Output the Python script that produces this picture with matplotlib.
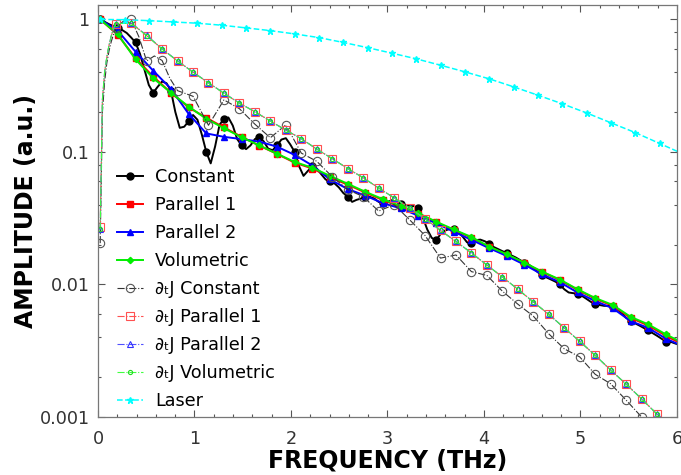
import numpy as np
import matplotlib
matplotlib.use("Agg")
import matplotlib.pyplot as plt
from matplotlib.ticker import LogLocator, NullFormatter, FixedLocator, MultipleLocator

plt.rcParams["font.family"] = ["DejaVu Sans", "Noto Sans"]

# ---------------- data ----------------
F0 = 0.0229  # first frequency sample (THz)

# Constant (solid, filled circles) sampled every 0.0458 THz
constant_amp = [
    1.0, 0.96, 0.92, 0.89, 0.86, 0.83, 0.79, 0.73, 0.67, 0.55, 0.42, 0.32,
    0.28, 0.31, 0.34, 0.33, 0.29, 0.20, 0.152, 0.155, 0.17, 0.19, 0.175, 0.135,
    0.10, 0.082, 0.11, 0.16, 0.178, 0.182, 0.158, 0.125, 0.112, 0.105, 0.112, 0.125,
    0.13, 0.12, 0.106, 0.103, 0.112, 0.124, 0.127, 0.114, 0.10, 0.078, 0.066, 0.072,
    0.078, 0.075, 0.068, 0.062, 0.060, 0.058, 0.054, 0.049, 0.046, 0.042, 0.0435, 0.0445,
    0.0455, 0.0458, 0.0445, 0.042, 0.041, 0.042, 0.0433, 0.042, 0.0405, 0.0395, 0.039, 0.039,
    0.0375, 0.032, 0.026, 0.0225, 0.0215, 0.024, 0.0255, 0.0262, 0.026, 0.025, 0.023, 0.0208,
    0.0205, 0.0216, 0.0218, 0.0212, 0.0203, 0.0192, 0.0185, 0.0178, 0.0172, 0.0166, 0.016, 0.0153,
    0.0146, 0.0141, 0.0133, 0.0124, 0.0117, 0.0113, 0.0109, 0.0105, 0.0100, 0.0092, 0.0087, 0.0086,
    0.0085, 0.0082, 0.0078, 0.0074, 0.0071, 0.0070, 0.0069, 0.0069, 0.0068, 0.0065, 0.0061, 0.0056,
    0.0053, 0.0051, 0.0049, 0.0047, 0.0045, 0.0043, 0.0041, 0.0039, 0.0037, 0.0037, 0.0036, 0.0035,
]

# Parallel 1 / Parallel 2 / Volumetric sampled every 0.1832 THz
parallel1_amp = [
    1.0, 0.764, 0.509, 0.37, 0.28, 0.217, 0.181, 0.153, 0.13, 0.1116, 0.0966, 0.083,
    0.075, 0.0645, 0.0566, 0.0494, 0.0433, 0.0384, 0.0341, 0.0294, 0.0257, 0.0226, 0.0191, 0.0168,
    0.0145, 0.0124, 0.0108, 0.0091, 0.0078, 0.0069, 0.0056, 0.0049, 0.0041, 0.0035,
]
parallel2_amp = [
    1.0, 0.82, 0.57, 0.41, 0.30, 0.194, 0.138, 0.130, 0.125, 0.1197, 0.1096, 0.095,
    0.079, 0.062, 0.0525, 0.0468, 0.041, 0.0375, 0.033, 0.029, 0.025, 0.0217, 0.0188, 0.0164,
    0.0141, 0.0119, 0.0104, 0.0087, 0.0075, 0.0066, 0.0053, 0.0047, 0.0039, 0.0034,
]
volumetric_amp = [
    1.0, 0.77, 0.50, 0.36, 0.28, 0.22, 0.178, 0.151, 0.129, 0.112, 0.097, 0.084,
    0.076, 0.066, 0.0575, 0.050, 0.0440, 0.0390, 0.0345, 0.0298, 0.0260, 0.0228, 0.0193, 0.0169,
    0.0146, 0.0125, 0.0109, 0.0092, 0.0079, 0.0070, 0.0057, 0.0050, 0.0042, 0.0036,
]

# d/dt J spectra: rising part every 0.0229 THz, then every 0.1603 THz
dtj_constant_amp = [
    0.0205, 0.20, 0.34, 0.47, 0.58, 0.68, 0.77,
    0.86, 0.97, 1.0, 0.74, 0.486, 0.53, 0.49, 0.36, 0.29,
    0.263, 0.159, 0.247, 0.212, 0.162, 0.128, 0.16, 0.098, 0.085, 0.065, 0.052, 0.046,
    0.0358, 0.040, 0.0308, 0.0234, 0.0158, 0.0167, 0.0125, 0.0117, 0.0089, 0.0071, 0.00577, 0.00424,
    0.00327, 0.00284, 0.0021, 0.00178, 0.00134, 0.0010, 0.00078, 0.0006,
]
dtj_parallel1_amp = [
    0.027, 0.25, 0.40, 0.52, 0.64, 0.75, 0.85,
    0.93, 0.936, 0.755, 0.599, 0.486, 0.40, 0.332, 0.277, 0.233, 0.201, 0.171, 0.146,
    0.126, 0.105, 0.089, 0.075, 0.0638, 0.0535, 0.045, 0.0378, 0.0313, 0.0256, 0.0211, 0.0173,
    0.014, 0.0114, 0.0092, 0.00738, 0.00595, 0.0047, 0.00372, 0.00292, 0.00226, 0.00177, 0.00137,
    0.00105, 0.0008,
]
dtj_parallel2_amp = [
    0.026, 0.25, 0.40, 0.52, 0.64, 0.75, 0.85,
    0.93, 0.94, 0.76, 0.60, 0.487, 0.40, 0.333, 0.278, 0.234, 0.201, 0.171, 0.146,
    0.126, 0.105, 0.089, 0.075, 0.0638, 0.0535, 0.045, 0.0378, 0.0313, 0.0256, 0.0211, 0.0173,
    0.014, 0.0114, 0.0092, 0.00738, 0.00595, 0.0047, 0.00372, 0.00292, 0.00226, 0.00177, 0.00137,
    0.00105, 0.0008,
]
dtj_volumetric_amp = [
    0.026, 0.25, 0.40, 0.52, 0.64, 0.75, 0.85,
    0.93, 0.935, 0.755, 0.598, 0.485, 0.40, 0.332, 0.277, 0.233, 0.201, 0.171, 0.146,
    0.126, 0.105, 0.089, 0.075, 0.0638, 0.0535, 0.045, 0.0378, 0.0313, 0.0256, 0.0211, 0.0173,
    0.014, 0.0114, 0.0092, 0.00738, 0.00595, 0.0047, 0.00372, 0.00292, 0.00226, 0.00177, 0.00137,
    0.00105, 0.0008,
]

# Laser sampled every 0.252 THz
laser_amp = [
    1.0, 0.995, 0.979, 0.957, 0.936, 0.904, 0.863, 0.823, 0.777, 0.729, 0.670, 0.612,
    0.556, 0.504, 0.451, 0.402, 0.356, 0.310, 0.268, 0.231, 0.197, 0.166, 0.140, 0.116, 0.096,
]

labels = ["Constant", "Parallel 1", "Parallel 2", "Volumetric",
          "\u2202\u209cJ Constant", "\u2202\u209cJ Parallel 1",
          "\u2202\u209cJ Parallel 2", "\u2202\u209cJ Volumetric", "Laser"]
x_ticks = [0, 1, 2, 3, 4, 5, 6]
y_ticks = [0.001, 0.01, 0.1, 1]
y_ticklabels = ["0.001", "0.01", "0.1", "1"]

# ---------------- frequency grids ----------------
f_const = F0 + 0.0458 * np.arange(len(constant_amp))
f_par = F0 + 0.1832 * np.arange(len(parallel1_amp))
f_laser = F0 + 0.252 * np.arange(len(laser_amp))
f_dtjc = np.concatenate([F0 * np.arange(1, 8),
                         F0 + 0.08015 * np.arange(2, 11),
                         F0 + 0.1603 * np.arange(6, 38)])
f_dtjp = np.concatenate([F0 * np.arange(1, 8),
                         F0 + 0.1603 * np.arange(1, 38)])


def on_grid(x, step, x0=F0):
    r = (np.asarray(x) - x0) / step
    return [int(i) for i in np.where(np.abs(r - np.round(r)) < 1e-3)[0]]


# ---------------- figure ----------------
fig = plt.figure(figsize=(6.81, 4.75), dpi=100)
ax = fig.add_axes([0.1439, 0.1221, 0.8502, 0.8674])

lw = 1.4
ax.plot(f_const, constant_amp, color="black", lw=lw, marker="o", ms=5,
        markevery=4, label=labels[0])
ax.plot(f_par, parallel1_amp, color="red", lw=lw, marker="s", ms=5,
        label=labels[1])
ax.plot(f_par, parallel2_amp, color="blue", lw=lw, marker="^", ms=5,
        label=labels[2])
ax.plot(f_par, volumetric_amp, color="#00ee00", lw=lw, marker="D", ms=3.2,
        label=labels[3])

dl = 0.8
ax.plot(f_dtjc, dtj_constant_amp, color="#333333", lw=dl, ls="-.", marker="o",
        ms=6, mfc="none", mec="#555555", mew=0.8,
        markevery=on_grid(f_dtjc, 0.1603), label=labels[4])
ax.plot(f_dtjp, dtj_parallel1_amp, color="#ff5050", lw=dl, ls="-.", marker="s",
        ms=6, mfc="none", mec="#ff5050", mew=0.8,
        markevery=on_grid(f_dtjp, 0.1603), label=labels[5])
ax.plot(f_dtjp, dtj_parallel2_amp, color="#5050ff", lw=dl, ls="-.", marker="^",
        ms=4.5, mfc="none", mec="#3030ff", mew=0.8,
        markevery=on_grid(f_dtjp, 0.1603), label=labels[6])
ax.plot(f_dtjp, dtj_volumetric_amp, color="#40ff40", lw=dl, ls="-.", marker="o",
        ms=3, mfc="none", mec="#20dd20", mew=0.8,
        markevery=on_grid(f_dtjp, 0.1603), label=labels[7])
ax.plot(f_laser, laser_amp, color="cyan", lw=1.1, ls="--", marker="*", ms=5,
        label=labels[8])

ax.set_yscale("log")
ax.set_xlim(0, 6)
ax.set_ylim(0.001, 1.285)

ax.xaxis.set_major_locator(FixedLocator(x_ticks))
ax.xaxis.set_minor_locator(MultipleLocator(0.2))
ax.set_xticklabels([str(t) for t in x_ticks])
ax.yaxis.set_major_locator(FixedLocator(y_ticks))
ax.set_yticklabels(y_ticklabels)
ax.yaxis.set_minor_locator(LogLocator(base=10, subs=(2, 4, 6, 8)))
ax.yaxis.set_minor_formatter(NullFormatter())

ax.tick_params(which="both", direction="in", top=True, right=True,
               colors="#555555", labelcolor="#333333", labelsize=12.7)
ax.tick_params(which="major", length=5, width=0.8)
ax.tick_params(axis="y", which="major", pad=6)
ax.tick_params(axis="x", which="major", pad=9)
ax.tick_params(which="minor", length=2.5, width=0.8)
for s in ax.spines.values():
    s.set_color("#777777")
    s.set_linewidth(0.9)

ax.set_xlabel("FREQUENCY (THz)", fontsize=17, fontweight="bold", labelpad=1)
ax.set_ylabel("AMPLITUDE (a.u.)", fontsize=17, fontweight="bold", labelpad=1)

leg = ax.legend(loc="lower left", bbox_to_anchor=(0.032, 0.017), frameon=False,
                fontsize=12.7, handlelength=1.5, handletextpad=0.7,
                labelspacing=0.565, borderpad=0, borderaxespad=0)

fig.savefig("out.png", dpi=100)
